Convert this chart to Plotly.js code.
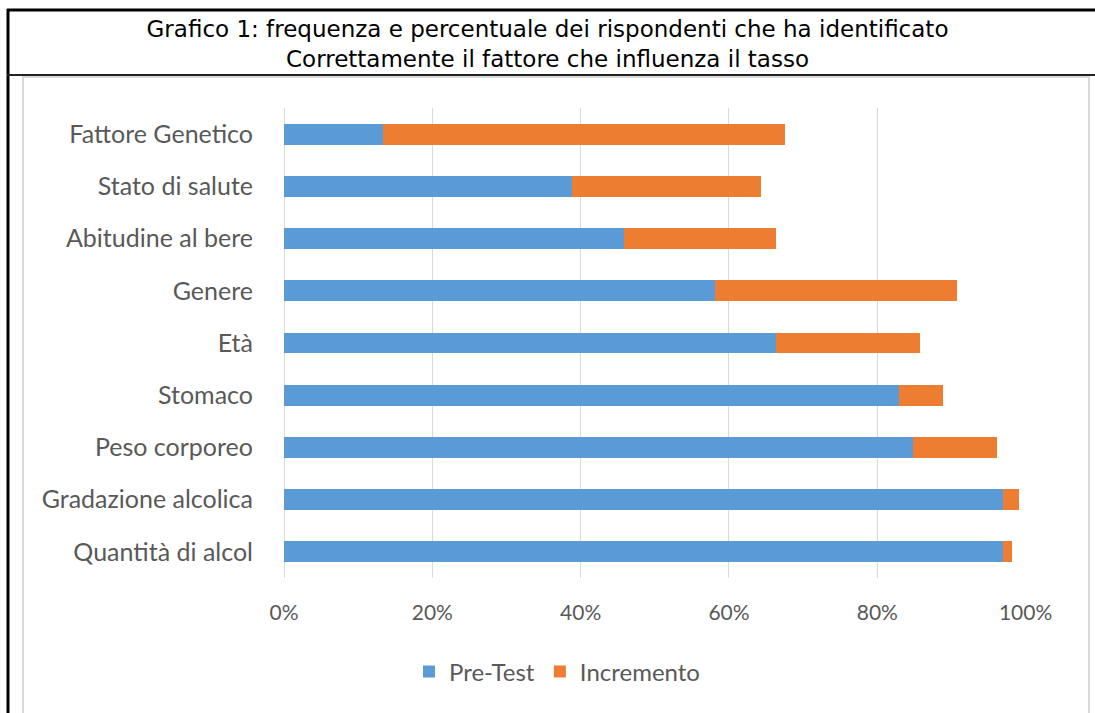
<!DOCTYPE html>
<html>
<head>
<meta charset="utf-8">
<script src="https://cdn.plot.ly/plotly-3.0.1.min.js"></script>
<style>html,body{margin:0;padding:0;background:#fff;}#chart{width:1095px;height:713px;}</style>
</head>
<body>
<div id="chart"></div>
<script>
const categories = ["Fattore Genetico","Stato di salute","Abitudine al bere","Genere","Età","Stomaco","Peso corporeo","Gradazione alcolica","Quantità di alcol"];
const preTest    = [0.133, 0.388, 0.459, 0.581, 0.664, 0.829, 0.848, 0.970, 0.970];
const incremento = [0.542, 0.255, 0.204, 0.327, 0.193, 0.060, 0.113, 0.021, 0.011];
const xTickVals  = [0, 0.2, 0.4, 0.6, 0.8, 1.0];
const xTickText  = ["0%","20%","40%","60%","80%","100%"];
const seriesNames = ["Pre-Test","Incremento"];
const titleText = "Grafico 1: frequenza e percentuale dei rispondenti che ha identificato<br>Correttamente il fattore che influenza il tasso";

const W = 1095, H = 713;
const M = {l: 284, r: 69, t: 108, b: 135};
const pw = W - M.l - M.r, ph = H - M.t - M.b;
const px = v => (v - M.l) / pw;
const py = v => (H - M.b - v) / ph;

const labelFont = {family: "Lato, Calibri, sans-serif", size: 25, color: "#595959"};

const traces = [
  {type: "bar", orientation: "h", name: seriesNames[0], y: categories, x: preTest,
   marker: {color: "#5B9BD5", line: {width: 0}}, hoverinfo: "x+y"},
  {type: "bar", orientation: "h", name: seriesNames[1], y: categories, x: incremento,
   marker: {color: "#ED7D31", line: {width: 0}}, hoverinfo: "x+y"}
];

const layout = {
  width: W, height: H,
  margin: M,
  paper_bgcolor: "#fff", plot_bgcolor: "#fff",
  barmode: "stack",
  bargap: 0.6,
  title: {text: titleText, font: {family: "DejaVu Sans, Verdana, sans-serif", size: 23, color: "#000"},
          x: 0.5, xref: "container", xanchor: "center", y: 1 - 37/H, yref: "container", yanchor: "middle"},
  xaxis: {range: [0, 1.0005], tickvals: xTickVals, ticktext: xTickText,
          showgrid: true, gridcolor: "#d9d9d9", gridwidth: 1, zeroline: true, zerolinecolor: "#d9d9d9",
          showline: false, ticks: "", ticklabelstandoff: 20,
          tickfont: {family: "Lato, Calibri, sans-serif", size: 21, color: "#595959"}, fixedrange: true},
  yaxis: {type: "category", autorange: "reversed", showgrid: false, zeroline: false, showline: false,
          ticks: "", ticklabelstandoff: 30, tickfont: labelFont, fixedrange: true},
  showlegend: true,
  legend: {orientation: "h", x: px(557), xanchor: "center", y: py(672), yanchor: "middle",
           font: {family: "Lato, Calibri, sans-serif", size: 24, color: "#595959"},
           itemwidth: 30, traceorder: "normal"},
  shapes: [
    {type: "rect", xref: "paper", yref: "paper", x0: px(23), x1: px(1089), y0: py(725), y1: py(77),
     line: {color: "#d9d9d9", width: 2}, fillcolor: "rgba(0,0,0,0)", layer: "below"},
    {type: "line", xref: "paper", yref: "paper", x0: px(7), x1: px(1100), y0: py(10), y1: py(10),
     line: {color: "#000", width: 3}},
    {type: "line", xref: "paper", yref: "paper", x0: px(8), x1: px(8), y0: py(9), y1: py(720),
     line: {color: "#000", width: 3}},
    {type: "line", xref: "paper", yref: "paper", x0: px(7), x1: px(1100), y0: py(75), y1: py(75),
     line: {color: "#222", width: 2}}
  ]
};

Plotly.newPlot("chart", traces, layout, {displayModeBar: false, staticPlot: true});
</script>
</body>
</html>
